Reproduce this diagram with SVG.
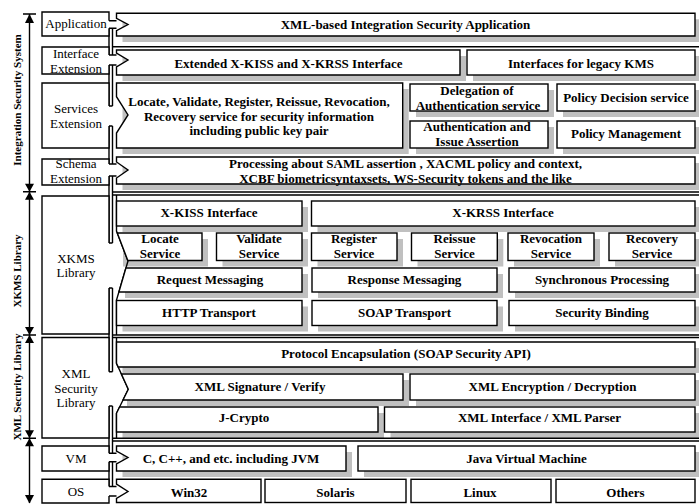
<svg xmlns="http://www.w3.org/2000/svg" width="699" height="504" viewBox="0 0 699 504">
<style>
.b{fill:#fff;stroke:#000;stroke-width:1.4}
.sh{fill:#c0c0c0;stroke:none}
.ln{fill:none;stroke:#000;stroke-width:1.4}
.t{font-family:"Liberation Serif","Times New Roman",serif;font-size:13px;font-weight:bold;text-anchor:middle;fill:#000}
.l{font-family:"Liberation Serif","Times New Roman",serif;font-size:13px;text-anchor:middle;fill:#000}
.v{font-family:"Liberation Serif","Times New Roman",serif;font-size:11px;font-weight:bold;text-anchor:middle;fill:#000}
.ah{fill:#000;stroke:none}
</style>
<rect width="699" height="504" fill="#fff"/>

<!-- shadows -->
<g id="shadows">
<rect class="sh" x="122.5" y="19.3" width="578.5" height="22.7"/>
<rect class="sh" x="122.5" y="56" width="343.5" height="25"/>
<rect class="sh" x="473" y="56" width="228" height="25"/>
<rect class="sh" x="122.5" y="89" width="286.2" height="65"/>
<rect class="sh" x="416" y="90" width="138" height="27"/>
<rect class="sh" x="416" y="127" width="138" height="27"/>
<rect class="sh" x="563" y="90" width="138" height="27"/>
<rect class="sh" x="563" y="127" width="138" height="27"/>
<rect class="sh" x="122.5" y="163" width="578.5" height="27"/>
<rect class="sh" x="122.5" y="207" width="185.5" height="25"/>
<rect class="sh" x="317.5" y="207" width="383.5" height="25"/>
<rect class="sh" x="123" y="239" width="85" height="27.5"/>
<rect class="sh" x="222.5" y="239" width="85.5" height="27.5"/>
<rect class="sh" x="317.5" y="239" width="85.5" height="27.5"/>
<rect class="sh" x="417.5" y="239" width="85.8" height="27.5"/>
<rect class="sh" x="514" y="239" width="86" height="27.5"/>
<rect class="sh" x="615" y="239" width="86" height="27.5"/>
<rect class="sh" x="125" y="274" width="183" height="24"/>
<rect class="sh" x="318" y="274" width="185" height="24"/>
<rect class="sh" x="515" y="274" width="186" height="24"/>
<rect class="sh" x="122.5" y="306.5" width="185.5" height="25"/>
<rect class="sh" x="318" y="306.5" width="185" height="25"/>
<rect class="sh" x="515" y="306.5" width="186" height="25"/>
<rect class="sh" x="122.5" y="348" width="578.5" height="25"/>
<rect class="sh" x="127" y="380" width="282" height="26"/>
<rect class="sh" x="416" y="380" width="285" height="26"/>
<rect class="sh" x="122.5" y="413" width="261.5" height="25"/>
<rect class="sh" x="390.5" y="413" width="310.5" height="25"/>
<rect class="sh" x="122.5" y="452" width="229.5" height="25"/>
<rect class="sh" x="364" y="452" width="337" height="25"/>
</g>

<!-- connectors: side arrows, pipe, stems, frames -->
<g id="connectors">
<path class="ln" d="M29.5,14 V503"/>
<path class="ln" d="M23,14 H36 M23,191.7 H36 M23,335 H36 M23,438.3 H36"/>
<polygon class="ah" points="29.5,14 25,23 34,23"/>
<polygon class="ah" points="25,183.7 34,183.7 29.5,191.7 34,199.7 25,199.7 29.5,191.7"/>
<polygon class="ah" points="25,327 34,327 29.5,335 34,343 25,343 29.5,335"/>
<polygon class="ah" points="25,430.3 34,430.3 29.5,438.3 34,446.3 25,446.3 29.5,438.3"/>
<polygon class="ah" points="25,495 34,495 29.5,503.5"/>
<!-- pipe -->
<path class="ln" d="M109,28.3 V55 M112.5,28.3 V55 M109,65 V106 M112.5,65 V106 M109,126 V164 M112.5,126 V164 M109,176 V243 M112.5,176 V243 M109,288 V371.7 M112.5,288 V371.7 M109,406 V453.3 M112.5,406 V453.3 M109,461.7 V486.5 M112.5,461.7 V486.5"/>
<!-- stems -->
<path class="ln" d="M109,20.7 H116.5 M109,28.3 H116.5 M109,55 H116.5 M109,65 H116.5 M109,106 H112.5 M109,126 H112.5 M109,164 H116.5 M109,176 H116.5 M109,243 H112.5 M109,288 H112.5 M109,371.7 H112.5 M109,406 H112.5 M109,453.3 H116.5 M109,461.7 H116.5 M109,486.5 H116.5 M109,496 H116.5"/>
<!-- frames -->
<path class="ln" d="M112.5,46.7 H699 M112.5,192 H699 M112.5,195 H699 M112.5,335 H699 M112.5,337.5 H699 M112.5,438.3 H699 M112.5,441 H699"/>
<path class="ln" d="M116.5,195 V231 L128,261 L116.5,300 V335"/>
<path class="ln" d="M116.5,337.5 V363.3 L128.3,389.3 L116.5,413.3 V438.3"/>
</g>

<!-- left labels -->
<g id="n-application-label"><path class="b" d="M109,20.7 V12 H42 V36 H109 V28.3"/><text class="l" x="76" y="28.3">Application</text></g>
<g id="n-interface-label"><path class="b" d="M109,55 V47 H42 V74 H109 V65"/><text class="l" x="76" y="58.3">Interface</text><text class="l" x="76" y="72.7">Extension</text></g>
<g id="n-services-label"><path class="b" d="M109,106 V83 H42 V148 H109 V126"/><text class="l" x="76" y="113.3">Services</text><text class="l" x="76" y="127.7">Extension</text></g>
<g id="n-schema-label"><path class="b" d="M109,164 V159 H42 V185 H109 V176"/><text class="l" x="76" y="168.3">Schema</text><text class="l" x="76" y="183">Extension</text></g>
<g id="n-xkms-label"><path class="b" d="M109,243 V196 H42 V334 H109 V288"/><text class="l" x="76" y="262.7">XKMS</text><text class="l" x="76" y="277.3">Library</text></g>
<g id="n-xmlsec-label"><path class="b" d="M109,371.7 V337.5 H42 V438 H109 V406"/><text class="l" x="76" y="378.3">XML</text><text class="l" x="76" y="393.3">Security</text><text class="l" x="76" y="407.3">Library</text></g>
<g id="n-vm-label"><path class="b" d="M109,453.3 V446 H42 V471 H109 V461.7"/><text class="l" x="76" y="462.7">VM</text></g>
<g id="n-os-label"><path class="b" d="M109,486.5 V479.3 H42 V503 H109 V496"/><text class="l" x="76" y="496">OS</text></g>

<!-- vertical side labels -->
<g id="n-side-labels">
<text class="v" transform="translate(20.5,100) rotate(-90)">Integration Security System</text>
<text class="v" transform="translate(20.5,271) rotate(-90)">XKMS Library</text>
<text class="v" transform="translate(20.5,387) rotate(-90)">XML Security Library</text>
</g>

<!-- application -->
<g id="n-app"><polygon class="b" points="116.5,13.3 695,13.3 695,36 116.5,36 116.5,30.7 128,24.5 116.5,18.3"/><text class="t" x="405.5" y="29">XML-based Integration Security Application</text></g>

<!-- interface -->
<g id="n-ext-if"><polygon class="b" points="116.5,50 460,50 460,75 116.5,75 116.5,67 128,60 116.5,53"/><text class="t" x="288.5" y="67.5">Extended X-KISS and X-KRSS Interface</text></g>
<g id="n-legacy"><rect class="b" x="467" y="50" width="228" height="25"/><text class="t" x="581" y="67.5">Interfaces for legacy KMS</text></g>

<!-- services -->
<g id="n-locate-all"><polygon class="b" points="116.5,83 402.7,83 402.7,148 116.5,148 116.5,133 128,115 116.5,96.7"/>
<text class="t" x="259" y="106">Locate, Validate, Register, Reissue, Revocation,</text>
<text class="t" x="259" y="120.5">Recovery service for security information</text>
<text class="t" x="259" y="135">including public key pair</text></g>
<g id="n-delegation"><rect class="b" x="410" y="84" width="138" height="27"/><text class="t" x="477" y="94.5">Delegation of</text><text class="t" x="478" y="110">Authentication service</text></g>
<g id="n-authissue"><rect class="b" x="410" y="121" width="138" height="27"/><text class="t" x="477" y="130.5">Authentication and</text><text class="t" x="477" y="146">Issue Assertion</text></g>
<g id="n-pdp"><rect class="b" x="557" y="84" width="138" height="27"/><text class="t" x="626" y="102.3">Policy Decision service</text></g>
<g id="n-pm"><rect class="b" x="557" y="121" width="138" height="27"/><text class="t" x="626" y="138.3">Policy Management</text></g>

<!-- schema -->
<g id="n-schema"><polygon class="b" points="116.5,157 695,157 695,184 116.5,184 116.5,178 128,170 116.5,162"/>
<text class="t" x="405.5" y="168.3">Processing about SAML assertion , XACML policy and context,</text>
<text class="t" x="405.5" y="182.5">XCBF biometricsyntaxsets, WS-Security tokens and the like</text></g>

<!-- XKMS -->
<g id="n-xkiss"><rect class="b" x="116.5" y="201" width="185.5" height="25"/><text class="t" x="209" y="217.3">X-KISS Interface</text></g>
<g id="n-xkrss"><rect class="b" x="311.5" y="201" width="383.5" height="25"/><text class="t" x="503" y="217.3">X-KRSS Interface</text></g>
<g id="n-locate"><polygon class="b" points="117.3,233 202,233 202,260.5 127.8,260.5"/><text class="t" x="160" y="243.3">Locate</text><text class="t" x="160" y="258">Service</text></g>
<g id="n-validate"><rect class="b" x="216.5" y="233" width="85.5" height="27.5"/><text class="t" x="259" y="243.3">Validate</text><text class="t" x="259" y="258">Service</text></g>
<g id="n-register"><rect class="b" x="311.5" y="233" width="85.5" height="27.5"/><text class="t" x="354" y="243.3">Register</text><text class="t" x="354" y="258">Service</text></g>
<g id="n-reissue"><rect class="b" x="411.5" y="233" width="85.8" height="27.5"/><text class="t" x="454.5" y="243.3">Reissue</text><text class="t" x="454.5" y="258">Service</text></g>
<g id="n-revocation"><rect class="b" x="508" y="233" width="86" height="27.5"/><text class="t" x="551" y="243.3">Revocation</text><text class="t" x="551" y="258">Service</text></g>
<g id="n-recovery"><rect class="b" x="609" y="233" width="86" height="27.5"/><text class="t" x="652" y="243.3">Recovery</text><text class="t" x="652" y="258">Service</text></g>
<g id="n-request"><polygon class="b" points="125.9,268 302,268 302,292 118.9,292"/><text class="t" x="210" y="284">Request Messaging</text></g>
<g id="n-response"><rect class="b" x="312" y="268" width="185" height="24"/><text class="t" x="404.5" y="284">Response Messaging</text></g>
<g id="n-sync"><rect class="b" x="509" y="268" width="186" height="24"/><text class="t" x="602" y="284">Synchronous Processing</text></g>
<g id="n-http"><rect class="b" x="116.5" y="300.5" width="185.5" height="25"/><text class="t" x="209" y="317.3">HTTP Transport</text></g>
<g id="n-soap"><rect class="b" x="312" y="300.5" width="185" height="25"/><text class="t" x="404.5" y="317.3">SOAP Transport</text></g>
<g id="n-secbind"><rect class="b" x="509" y="300.5" width="186" height="25"/><text class="t" x="602" y="317.3">Security Binding</text></g>

<!-- XML security -->
<g id="n-protocol"><polygon class="b" points="116.5,342 695,342 695,367 118.2,367 116.5,363.3"/><text class="t" x="406" y="358.3">Protocol Encapsulation (SOAP Security API)</text></g>
<g id="n-xmlsig"><polygon class="b" points="121.4,374 403,374 403,400 123,400 128.3,389.3"/><text class="t" x="260" y="390.7">XML Signature / Verify</text></g>
<g id="n-xmlenc"><rect class="b" x="410" y="374" width="285" height="26"/><text class="t" x="552.5" y="390.7">XML Encryption / Decryption</text></g>
<g id="n-jcrypto"><polygon class="b" points="119.6,407 378,407 378,432 116.5,432 116.5,413.3"/><text class="t" x="244" y="421.7">J-Crypto</text></g>
<g id="n-xmlparser"><rect class="b" x="384.5" y="407" width="310.5" height="25"/><text class="t" x="539.5" y="421.7">XML Interface / XML Parser</text></g>

<!-- VM -->
<g id="n-c"><polygon class="b" points="116.5,446 346,446 346,471 116.5,471 116.5,464 128,457.5 116.5,451"/><text class="t" x="231" y="462.7">C, C++, and etc. including JVM</text></g>
<g id="n-jvm"><rect class="b" x="358" y="446" width="337" height="25"/><text class="t" x="526.5" y="462.7">Java Virtual Machine</text></g>

<!-- OS -->
<g id="n-win32"><polygon class="b" points="116.5,479.3 261,479.3 261,502.5 116.5,502.5 116.5,498.5 128,491.5 116.5,484"/><text class="t" x="189" y="496.7">Win32</text></g>
<g id="n-solaris"><rect class="b" x="265" y="479.3" width="141" height="23.2"/><text class="t" x="335.5" y="496.7">Solaris</text></g>
<g id="n-linux"><rect class="b" x="411" y="479.3" width="140" height="23.2"/><text class="t" x="480" y="496.7">Linux</text></g>
<g id="n-others"><rect class="b" x="556" y="479.3" width="139" height="23.2"/><text class="t" x="625.5" y="496.7">Others</text></g>
</svg>
